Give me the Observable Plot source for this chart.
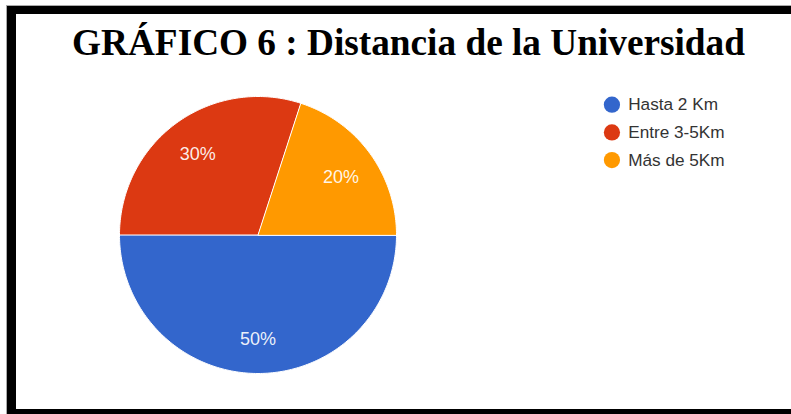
<!DOCTYPE html>
<html>
<head>
<meta charset="utf-8">
<script src="https://cdn.jsdelivr.net/npm/d3@7"></script>
<script src="https://cdn.jsdelivr.net/npm/@observablehq/plot@0.6"></script>
<style>
  html, body { margin: 0; padding: 0; background: #fff; }
  #wrap { position: relative; width: 791px; height: 414px; overflow: hidden; background: #fff; }
  #frame { position: absolute; left: 7px; top: 6px; width: 820px; height: 412px; box-sizing: border-box;
           border-left: 9px solid #000; border-top: 8px solid #000; border-bottom: 9px solid #000;
           box-shadow: 0 0 0 1px #aaa; }
  #title { position: absolute; left: 0; width: 817px; text-align: center; white-space: nowrap;
           font-family: "Liberation Serif", "Times New Roman", serif; font-weight: bold; color: #000; line-height: 1; }
  #pie, #legend { position: absolute; left: 0; top: 0; }
</style>
</head>
<body>
<div id="wrap">
  <div id="frame"></div>
  <div id="title"></div>
  <div id="pie"></div>
  <div id="legend"></div>
</div>
<script>
const titleText = "GRÁFICO 6 : Distancia de la Universidad";
const categories = ["Hasta 2 Km", "Entre 3-5Km", "Más de 5Km"];
const values = [50, 30, 20];
const colors = ["#3366cc", "#dc3912", "#ff9900"];
const labels = ["50%", "30%", "20%"];

// Title sized to fill its span in the reference
const titleEl = document.getElementById("title");
titleEl.textContent = titleText;
const ctx = document.createElement("canvas").getContext("2d");
ctx.font = "bold 100px 'Liberation Serif'";
const w100 = ctx.measureText(titleText).width;
const fs = 100 * 673 / w100;
titleEl.style.fontSize = fs + "px";
titleEl.style.top = (55 - (fs * (1 - 1.107) / 2 + 0.891 * fs)) + "px";
titleEl.style.left = (408.5 - 817 / 2) + "px";

// Pie geometry from the data (start at 3 o'clock, clockwise)
const total = d3.sum(values);
const startDeg = 90;
let acc = 0;
const slices = categories.map((c, i) => {
  const a0 = startDeg + acc / total * 360;
  acc += values[i];
  const a1 = startDeg + acc / total * 360;
  return {key: c, a0, a1, label: labels[i]};
});
const pts = [];
for (const s of slices) {
  pts.push({key: s.key, x: 0, y: 0});
  const n = Math.max(2, Math.ceil(s.a1 - s.a0));
  for (let k = 0; k <= n; k++) {
    const a = (s.a0 + (s.a1 - s.a0) * k / n) * Math.PI / 180;
    pts.push({key: s.key, x: Math.sin(a), y: Math.cos(a)});
  }
}
const labelR = 0.74;
const labelPts = slices.map(s => {
  const m = ((s.a0 + s.a1) / 2) * Math.PI / 180;
  return {key: s.key, label: s.label, x: labelR * Math.sin(m), y: labelR * Math.cos(m)};
});

const cx = 257.5, cy = 234.5, r = 138.5;
const pie = Plot.plot({
  width: 791, height: 414,
  margin: 0,
  style: {background: "transparent", overflow: "visible"},
  x: {domain: [-1, 1], range: [cx - r, cx + r], axis: null},
  y: {domain: [-1, 1], range: [cy + r, cy - r], axis: null},
  color: {domain: categories, range: colors},
  marks: [
    Plot.line(pts, {x: "x", y: "y", z: "key", fill: "key", stroke: "#fff", strokeWidth: 1, curve: "linear-closed"}),
    Plot.text(labelPts, {x: "x", y: "y", text: "label", fill: "#fff", fillOpacity: 0.92, fontSize: 18, dy: 2,
      fontFamily: "Liberation Sans, Arial, sans-serif", textAnchor: "middle"})
  ]
});
document.getElementById("pie").appendChild(pie);

// Legend as its own small plot
const legend = Plot.plot({
  width: 200, height: 100,
  margin: 0,
  style: {background: "transparent", overflow: "visible"},
  y: {type: "point", domain: categories, range: [16, 75], padding: 0, axis: null},
  color: {domain: categories, range: colors},
  marks: [
    Plot.dot(categories, {y: d => d, fill: d => d, r: 8.5, frameAnchor: "left", dx: 12}),
    Plot.text(categories, {y: d => d, text: d => d, frameAnchor: "left", dx: 29, textAnchor: "start",
      fill: "#333", fontSize: 18, fontFamily: "Liberation Sans, Arial, sans-serif"})
  ]
});
const lg = document.getElementById("legend");
lg.style.left = "600px";
lg.style.top = "88px";
lg.appendChild(legend);
</script>
</body>
</html>
